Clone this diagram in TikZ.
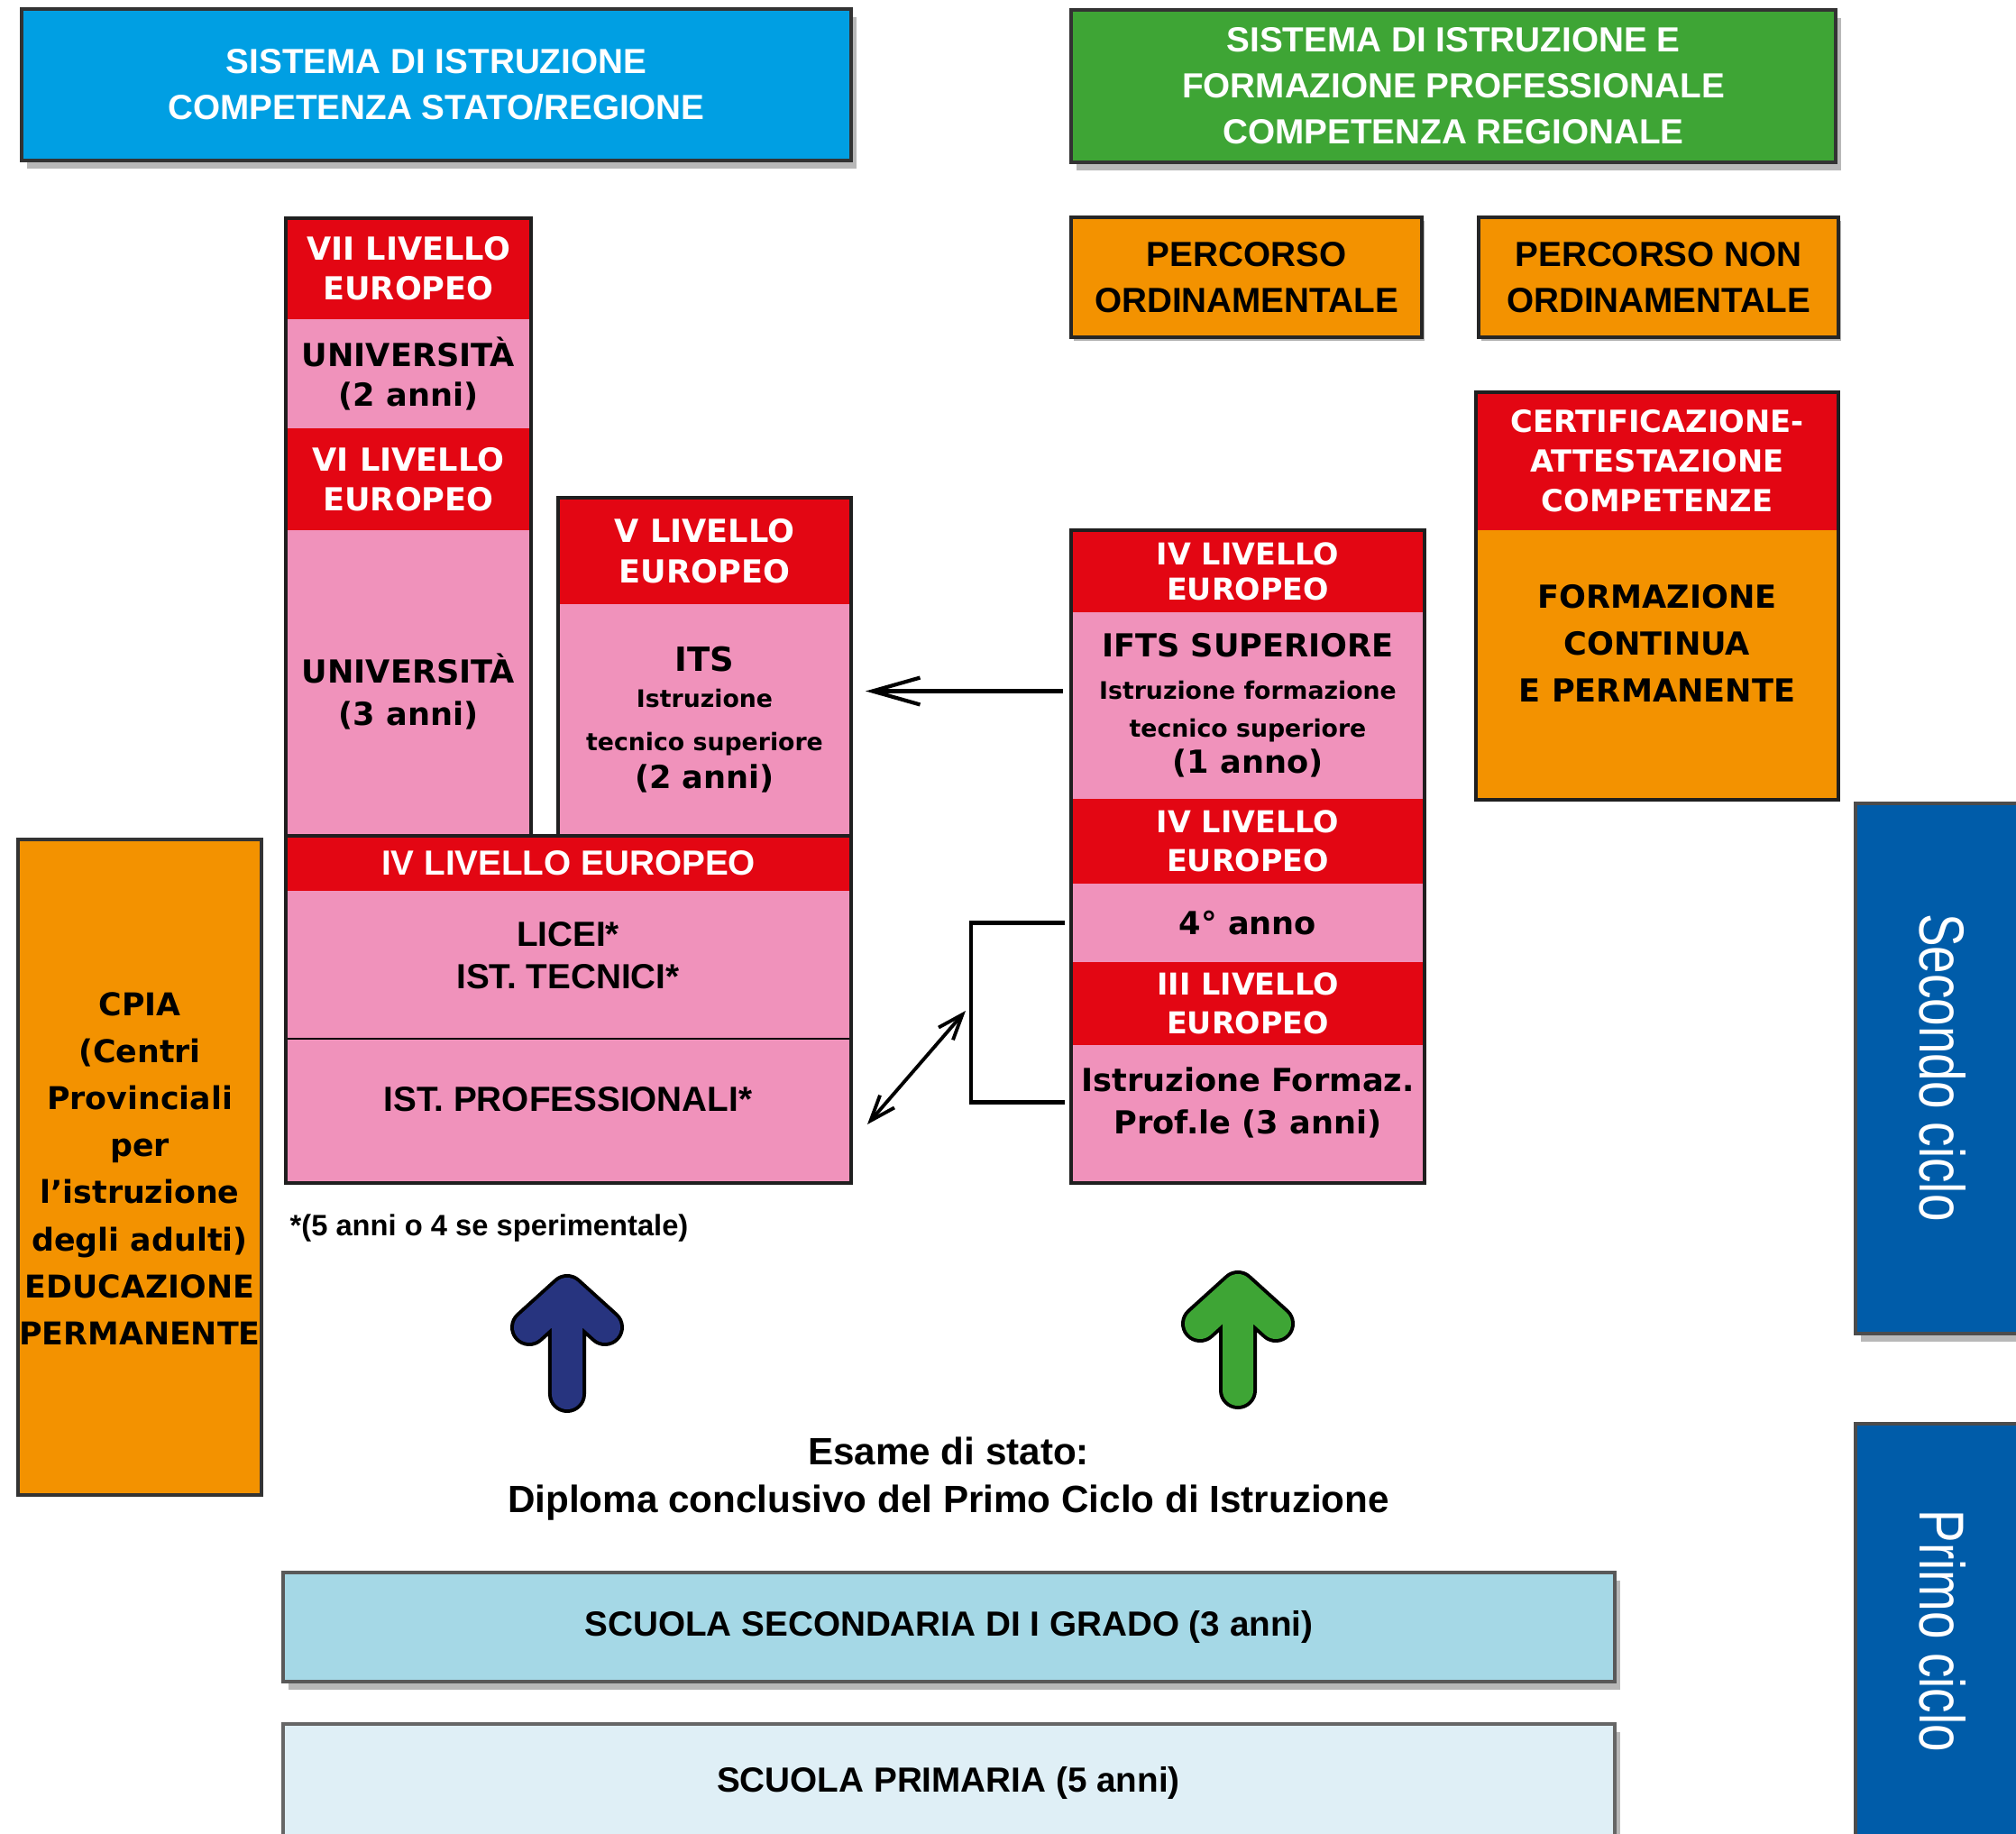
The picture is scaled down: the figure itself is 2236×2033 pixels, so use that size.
\documentclass[tikz,border=0pt]{standalone}
\usepackage{fontspec}
\setmainfont{Liberation Sans}
\newfontfamily\vfont{DejaVu Sans}
\newfontfamily\cyclefont[FakeStretch=0.78]{Liberation Sans}
\usetikzlibrary{fit,arrows.meta,shadows}

\definecolor{cHdrBlue}{HTML}{009FE3}
\definecolor{cHdrGreen}{HTML}{3EA535}
\definecolor{cOrange}{HTML}{F39200}
\definecolor{cRed}{HTML}{E30613}
\definecolor{cPink}{HTML}{F092BB}
\definecolor{cSec}{HTML}{A5D8E6}
\definecolor{cPrim}{HTML}{DFEFF6}
\definecolor{cCycle}{HTML}{005CA9}
\definecolor{cNavy}{HTML}{27347F}
\definecolor{cArrowGreen}{HTML}{3EA535}

\newcommand\lfont[2]{\fontsize{#1}{#2}\selectfont\bfseries}
\newcommand\vbold[2]{\vfont\fontsize{#1}{#2}\selectfont\bfseries}
% \cellbox{name}{style}{x1}{y1}{x2}{y2}{text}
\newcommand\cellbox[7]{%
  \node[#2,minimum width={(#5-#3)*0.01cm},minimum height={(#6-#4)*0.01cm}]
    (#1) at ({(#3+#5)/2},{(#4+#6)/2}) {#7};}
\newcommand\bigup[3]{%
  \begin{scope}[shift={(#1,#2)}]
    \draw[line width=0.42cm,black,line cap=round,line join=round]
      (-42,38) -- (0,0) -- (42,38) (0,0) -- (0,112);
    \draw[line width=0.34cm,#3,line cap=round,line join=round]
      (-42,38) -- (0,0) -- (42,38) (0,0) -- (0,112);
  \end{scope}}

\begin{document}
\begin{tikzpicture}[x=0.01cm,y=-0.01cm,
  cell/.style={inner sep=0pt,outer sep=0pt,align=center},
  outlinebox/.style={draw=black!88,line width=0.9pt,inner sep=0pt,outer sep=0pt,fill=none},
  softshadow/.style={drop shadow={shadow xshift=0.06cm,shadow yshift=-0.09cm,opacity=0.28,fill=black}},
  smallshadow/.style={drop shadow={shadow xshift=0.03cm,shadow yshift=-0.04cm,opacity=0.3,fill=black}},
  redcell/.style={cell,fill=cRed,text=white},
  pinkcell/.style={cell,fill=cPink,text=black},
  linkline/.style={line width=1.2pt,draw=black},
  headtip/.style={-{Straight Barb[length=15pt,width=8.5pt]}},
  twotips/.style={{Straight Barb[length=8pt,width=6pt]}-{Straight Barb[length=8pt,width=6pt]}},
]
\useasboundingbox (0,0) rectangle (2236,2033);

% ---------- headers ----------
\cellbox{hdrStato}{cell,fill=cHdrBlue,draw=black!80,line width=0.9pt,softshadow,text=white,font={\lfont{11}{14.5}}}{24}{10}{944}{178}
  {SISTEMA DI ISTRUZIONE\\COMPETENZA STATO/REGIONE}
\cellbox{hdrRegione}{cell,fill=cHdrGreen,draw=black!80,line width=0.9pt,softshadow,text=white,font={\lfont{11}{14.5}}}{1188}{11}{2036}{180}
  {SISTEMA DI ISTRUZIONE E\\FORMAZIONE PROFESSIONALE\\COMPETENZA REGIONALE}

\cellbox{ordin}{cell,fill=cOrange,draw=black!85,line width=0.9pt,smallshadow,font={\lfont{11}{14.5}}}{1188}{241}{1577}{374}
  {PERCORSO\\ORDINAMENTALE}
\cellbox{nonOrdin}{cell,fill=cOrange,draw=black!85,line width=0.9pt,smallshadow,font={\lfont{11}{14.5}}}{1640}{241}{2039}{374}
  {PERCORSO NON\\ORDINAMENTALE}

% ---------- certificazione ----------
\cellbox{certHdr}{redcell,font={\vbold{9.6}{12.5}}}{1637}{435}{2039}{588}
  {CERTIFICAZIONE-\\ATTESTAZIONE\\COMPETENZE}
\cellbox{formCont}{cell,fill=cOrange}{1637}{588}{2039}{887}{}
\node[cell,font={\vbold{10}{14.8}}] (formContTxt) at (1838,713)
      {FORMAZIONE\\CONTINUA\\E PERMANENTE};
\node[outlinebox,fit=(certHdr)(formCont)] (certCol) {};

% ---------- universita ----------
\cellbox{vii}{redcell,font={\vbold{10}{12.6}}}{317}{242}{589}{354}{VII LIVELLO\\EUROPEO}
\cellbox{uni2}{pinkcell,font={\vbold{10}{12.6}}}{317}{354}{589}{475}{UNIVERSITÀ\\(2 anni)}
\cellbox{vi}{redcell,font={\vbold{10}{12.6}}}{317}{475}{589}{588}{VI LIVELLO\\EUROPEO}
\cellbox{uni3}{pinkcell}{317}{588}{589}{927}{}
\node[cell,font={\vbold{10}{13.2}}] (uni3Txt) at (453,767) {UNIVERSITÀ\\(3 anni)};
\node[outlinebox,fit=(vii)(uni3)] (uniCol) {};

% ---------- ITS ----------
\cellbox{vHdr}{redcell,font={\vbold{10}{12.8}}}{619}{552}{944}{670}{V LIVELLO\\EUROPEO}
\cellbox{its}{pinkcell,font={\vbold{10}{12}}}{619}{670}{944}{927}
  {{\fontsize{10.5}{12}\selectfont ITS}\\[-0.6pt]{\fontsize{7.6}{9}\selectfont Istruzione}\\[1.4pt]{\fontsize{7.6}{9}\selectfont tecnico superiore}\\[0.2pt](2 anni)}
\node[outlinebox,fit=(vHdr)(its)] (itsCol) {};

% ---------- main (licei) ----------
\cellbox{ivMain}{redcell,font={\lfont{11}{14}}}{317}{927}{944}{988}{IV LIVELLO EUROPEO}
\cellbox{licei}{pinkcell}{317}{988}{944}{1152}{}
\node[cell,font={\lfont{11}{13.4}}] (liceiTxt) at (630,1060) {LICEI*\\IST. TECNICI*};
\cellbox{prof}{pinkcell}{317}{1152}{944}{1312}{}
\node[cell,font={\lfont{11}{13.4}}] (profTxt) at (630,1219) {IST. PROFESSIONALI*};
\draw[line width=0.6pt] (licei.south west) -- (licei.south east);
\node[outlinebox,fit=(ivMain)(prof)] (mainCol) {};

\node[anchor=west,inner sep=0pt,font={\lfont{9.3}{11}}] (footnote) at (321,1362)
      {*(5 anni o 4 se sperimentale)};

% ---------- IFTS / IeFP ----------
\cellbox{ivHdrA}{redcell,font={\vbold{9.5}{11}}}{1188}{588}{1580}{679}{IV LIVELLO\\EUROPEO}
\cellbox{ifts}{pinkcell,font={\vbold{10}{12}}}{1188}{679}{1580}{886}
  {IFTS SUPERIORE\\[1.4pt]{\fontsize{7.6}{9}\selectfont Istruzione formazione}\\{\fontsize{7.6}{9}\selectfont tecnico superiore}\\[-0.6pt](1 anno)}
\cellbox{ivHdrB}{redcell,font={\vbold{9.5}{12.2}}}{1188}{886}{1580}{980}{IV LIVELLO\\EUROPEO}
\cellbox{quarto}{pinkcell,font={\vbold{10}{12}}}{1188}{980}{1580}{1067}{4° anno}
\cellbox{iiiHdr}{redcell,font={\vbold{9.5}{12.4}}}{1188}{1067}{1580}{1159}{III LIVELLO\\EUROPEO}
\cellbox{ifp}{pinkcell}{1188}{1159}{1580}{1312}{}
\node[cell,font={\vbold{10}{13.4}}] (ifpTxt) at (1384,1223) {Istruzione Formaz.\\Prof.le (3 anni)};
\node[outlinebox,fit=(ivHdrA)(ifp)] (rightCol) {};

% ---------- CPIA ----------
\cellbox{cpia}{cell,fill=cOrange,draw=black!80,line width=0.9pt}{20}{931}{290}{1658}{}
\node[cell,font={\vbold{9.9}{14.8}}] (cpiaTxt) at (155,1296)
      {CPIA\\(Centri\\Provinciali\\per\\l’istruzione\\degli adulti)\\EDUCAZIONE\\PERMANENTE};

% ---------- cycles ----------
\cellbox{secondo}{cell,fill=cCycle,draw=black!70,line width=0.9pt,softshadow}{2058}{891}{2262}{1479}{}
\node[rotate=-90,text=white,inner sep=0pt,font={\cyclefont\fontsize{20}{24}\selectfont}] (secondoTxt) at (2155,1184) {Secondo ciclo};
\cellbox{primo}{cell,fill=cCycle,draw=black!70,line width=0.9pt}{2058}{1579}{2262}{2062}{}
\node[rotate=-90,text=white,inner sep=0pt,font={\cyclefont\fontsize{20}{24}\selectfont}] (primoTxt) at (2155,1809) {Primo ciclo};

% ---------- primo ciclo schools ----------
\node[cell,font={\lfont{12}{15}}] (esame) at (1052,1640)
      {Esame di stato:\\Diploma conclusivo del Primo Ciclo di Istruzione};
\cellbox{secondaria}{cell,fill=cSec,draw=black!65,line width=0.9pt,softshadow,font={\lfont{11}{14}}}{314}{1744}{1791}{1865}
  {SCUOLA SECONDARIA DI I GRADO (3 anni)}
\cellbox{primaria}{cell,fill=cPrim,draw=black!60,line width=0.9pt,softshadow}{314}{1912}{1791}{2062}{}
\node[cell,font={\lfont{11}{14}}] (primariaTxt) at (1052,1977) {SCUOLA PRIMARIA (5 anni)};

% ---------- connectors ----------
\draw[linkline,headtip] ([shift={(-9,-16)}]ifts.west) -- ([shift={(16,-32)}]its.east);
\draw[line width=1.3pt] ([shift={(-7,0)}]quarto.west) -- ++(-104,0) |- ([shift={(-7,-13)}]ifp.west);
\coordinate (bracketMid) at (1071,1121);
\draw[line width=1.1pt,twotips] (bracketMid) -- ([shift={(18,15)}]prof.east);

% ---------- big arrows ----------
\bigup{629}{1434}{cNavy}
\bigup{1373}{1430}{cArrowGreen}
\end{tikzpicture}
\end{document}
